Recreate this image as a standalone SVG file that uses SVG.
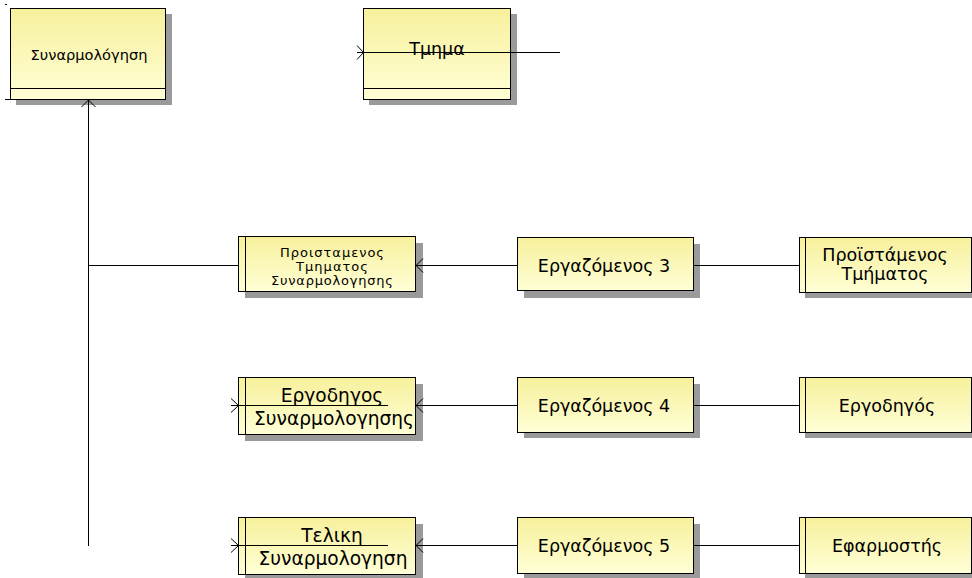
<svg xmlns="http://www.w3.org/2000/svg" width="972" height="578" viewBox="0 0 972 578">
  <defs>
    <linearGradient id="fillY" x1="0" y1="0" x2="0" y2="1">
      <stop offset="0" stop-color="#f7f09c"/>
      <stop offset="1" stop-color="#ffffd6"/>
    </linearGradient>
  </defs>
  <style>
    .shadow { fill: #9a9a9a; }
    .box { fill: url(#fillY); stroke: #000; stroke-width: 1; }
    .ln { stroke: #000; stroke-width: 1; fill: none; }
    .t { font-family: "DejaVu Sans", Verdana, sans-serif; fill: #000; text-anchor: middle; }
    .xs { font-size: 13px; }
    .s { font-size: 14.6px; }
    .m { font-size: 17.5px; }
    .l { font-size: 18.6px; }
  </style>

  <rect width="972" height="578" fill="#fff"/>

  <!-- entity: Συναρμολόγηση -->
  <g id="synarmologisi">
    <rect class="shadow" x="16" y="14" width="156" height="91"/>
    <rect class="box" x="10.5" y="8.5" width="155" height="91"/>
    <line class="ln" x1="10.5" y1="88.5" x2="165.5" y2="88.5"/>
    <text class="t s" x="89" y="60">Συναρμολόγηση</text>
  </g>

  <!-- entity: Τμημα -->
  <g id="tmima">
    <rect class="shadow" x="369" y="14" width="148" height="91"/>
    <rect class="box" x="363.5" y="8.5" width="147" height="91"/>
    <line class="ln" x1="363.5" y1="88.5" x2="510.5" y2="88.5"/>
    <text class="t m" x="437" y="55">Τμημα</text>
  </g>

  <!-- row 1 -->
  <g id="proistamenos-tmimatos-synarmologisis">
    <rect class="shadow" x="245" y="243" width="178" height="55"/>
    <rect class="box" x="238.5" y="236.5" width="177" height="55"/>
    <line class="ln" x1="245.5" y1="236.5" x2="245.5" y2="291.5"/>
    <text class="t xs" x="332" y="257" textLength="104" lengthAdjust="spacing">Προισταμενος</text>
    <text class="t xs" x="332" y="270.5" textLength="72" lengthAdjust="spacing">Τμηματος</text>
    <text class="t xs" x="332" y="284.5" textLength="122" lengthAdjust="spacing">Συναρμολογησης</text>
  </g>
  <g id="ergazomenos-3">
    <rect class="shadow" x="524" y="244" width="176" height="54"/>
    <rect class="box" x="517.5" y="237.5" width="176" height="53"/>
    <text class="t m" x="604" y="272">Εργαζόμενος 3</text>
  </g>
  <g id="proistamenos-tmimatos">
    <rect class="shadow" x="805" y="244" width="172" height="54"/>
    <rect class="box" x="799.5" y="237.5" width="172" height="55"/>
    <line class="ln" x1="805.5" y1="237.5" x2="805.5" y2="292.5"/>
    <text class="t m" x="885" y="261">Προϊστάμενος</text>
    <text class="t m" x="885" y="280">Τμήματος</text>
  </g>

  <!-- row 2 -->
  <g id="ergodigos-synarmologisis">
    <rect class="shadow" x="245" y="384" width="178" height="57"/>
    <rect class="box" x="238.5" y="377.5" width="177" height="57"/>
    <line class="ln" x1="245.5" y1="377.5" x2="245.5" y2="434.5"/>
    <text class="t l" x="332" y="402">Εργοδηγος</text>
    <text class="t l" x="334" y="425">Συναρμολογησης</text>
  </g>
  <g id="ergazomenos-4">
    <rect class="shadow" x="524" y="384" width="176" height="54"/>
    <rect class="box" x="517.5" y="377.5" width="176" height="55"/>
    <text class="t m" x="604" y="412">Εργαζόμενος 4</text>
  </g>
  <g id="ergodigos">
    <rect class="shadow" x="805" y="384" width="172" height="54"/>
    <rect class="box" x="799.5" y="377.5" width="172" height="55"/>
    <line class="ln" x1="805.5" y1="377.5" x2="805.5" y2="432.5"/>
    <text class="t m" x="887" y="412">Εργοδηγός</text>
  </g>

  <!-- row 3 -->
  <g id="teliki-synarmologisi">
    <rect class="shadow" x="245" y="524" width="178" height="57"/>
    <rect class="box" x="238.5" y="517.5" width="177" height="57"/>
    <line class="ln" x1="245.5" y1="517.5" x2="245.5" y2="574.5"/>
    <text class="t l" x="332" y="542">Τελικη</text>
    <text class="t l" x="333" y="565">Συναρμολογηση</text>
  </g>
  <g id="ergazomenos-5">
    <rect class="shadow" x="524" y="524" width="176" height="56"/>
    <rect class="box" x="517.5" y="517.5" width="176" height="56"/>
    <text class="t m" x="604" y="552">Εργαζόμενος 5</text>
  </g>
  <g id="efarmostis">
    <rect class="shadow" x="805" y="524" width="172" height="56"/>
    <rect class="box" x="799.5" y="517.5" width="172" height="56"/>
    <line class="ln" x1="805.5" y1="517.5" x2="805.5" y2="573.5"/>
    <text class="t m" x="887" y="552">Εφαρμοστής</text>
  </g>

  <!-- connectors -->
  <g id="connectors">
    <!-- tree from Συναρμολόγηση -->
    <path class="ln" d="M88.5,546 L88.5,100"/>
    <path class="ln" d="M81.5,107 L88.5,100 L95.5,107"/>
    <line class="ln" x1="88.5" y1="265.5" x2="238" y2="265.5"/>
    <line class="ln" x1="5" y1="99.5" x2="10" y2="99.5"/>
    <line class="ln" x1="5" y1="4.5" x2="7" y2="4.5"/>

    <!-- Τμημα -->
    <line class="ln" x1="357" y1="52.5" x2="560" y2="52.5"/>
    <path class="ln" d="M357,45.5 L363.5,52.5 L357,59.5"/>

    <!-- row 1 -->
    <line class="ln" x1="416" y1="265.5" x2="517" y2="265.5"/>
    <path class="ln" d="M423,258.5 L416,265.5 L423,272.5"/>
    <line class="ln" x1="694" y1="265.5" x2="799" y2="265.5"/>

    <!-- row 2 -->
    <line class="ln" x1="231" y1="405.5" x2="388" y2="405.5"/>
    <path class="ln" d="M231,398.5 L238.5,405.5 L231,412.5"/>
    <line class="ln" x1="416" y1="405.5" x2="517" y2="405.5"/>
    <path class="ln" d="M423,398.5 L416,405.5 L423,412.5"/>
    <line class="ln" x1="694" y1="405.5" x2="799" y2="405.5"/>

    <!-- row 3 -->
    <line class="ln" x1="231" y1="545.5" x2="388" y2="545.5"/>
    <path class="ln" d="M231,538.5 L238.5,545.5 L231,552.5"/>
    <line class="ln" x1="416" y1="545.5" x2="517" y2="545.5"/>
    <path class="ln" d="M423,538.5 L416,545.5 L423,552.5"/>
    <line class="ln" x1="694" y1="545.5" x2="799" y2="545.5"/>
  </g>
</svg>
